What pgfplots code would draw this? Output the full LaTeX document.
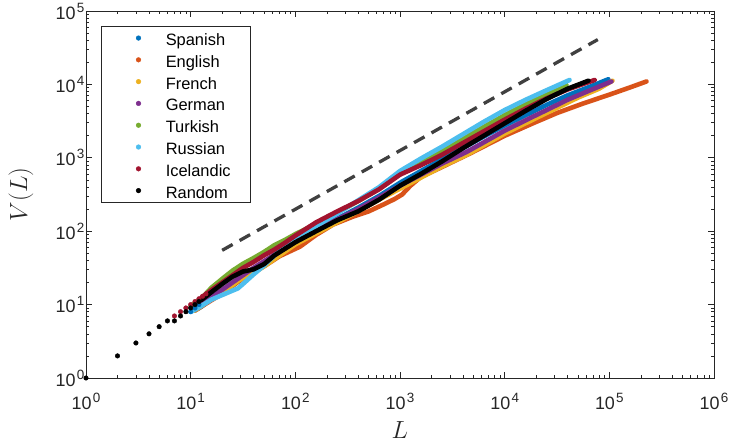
\documentclass[border=0pt]{standalone}
\usepackage[no-math]{fontspec}
\setmainfont{Liberation Sans}
\usepackage{pgfplots}
\pgfplotsset{compat=1.18}

\definecolor{mlblue}{RGB}{0,114,189}
\definecolor{mlorange}{RGB}{217,83,25}
\definecolor{mlyellow}{RGB}{237,177,32}
\definecolor{mlpurple}{RGB}{126,47,142}
\definecolor{mlgreen}{RGB}{119,172,48}
\definecolor{mlcyan}{RGB}{77,190,238}
\definecolor{mlred}{RGB}{162,20,47}
\definecolor{axgray}{RGB}{38,38,38}
\definecolor{dashgray}{RGB}{64,64,64}

\newcommand{\entry}[1]{\makebox[81bp][l]{\rule[-5bp]{0pt}{21.6bp}#1}}
\newcommand{\tp}[1]{10\kern1.2bp\raisebox{7bp}{\fontsize{13.5}{14}\selectfont #1}}

\begin{document}
\begin{tikzpicture}
\useasboundingbox (-86bp,-65bp) rectangle (643bp,378bp);
\begin{axis}[
    xmode=log, ymode=log,
    scale only axis, width=628bp, height=367bp,
    xmin=1, xmax=1e6, ymin=1, ymax=1e5,
    axis line style={axgray, line width=0.6bp},
    every tick/.style={axgray, line width=0.6bp},
    major tick length=6bp, minor tick length=3.5bp,
    xtick={1,10,100,1000,10000,100000,1000000},
    xticklabels={\tp{0},\tp{1},\tp{2},\tp{3},\tp{4},\tp{5},\tp{6}},
    ytick={1,10,100,1000,10000,100000},
    yticklabels={\tp{0},\tp{1},\tp{2},\tp{3},\tp{4},\tp{5}},
    minor xtick={2,3,4,5,6,7,8,9,20,30,40,50,60,70,80,90,200,300,400,500,600,700,800,900,2000,3000,4000,5000,6000,7000,8000,9000,20000,30000,40000,50000,60000,70000,80000,90000,200000,300000,400000,500000,600000,700000,800000,900000},
    minor ytick={2,3,4,5,6,7,8,9,20,30,40,50,60,70,80,90,200,300,400,500,600,700,800,900,2000,3000,4000,5000,6000,7000,8000,9000,20000,30000,40000,50000,60000,70000,80000,90000},
    ticklabel style={font=\fontsize{18}{20}\selectfont, text=axgray},
    xticklabel style={inner ysep=0pt, yshift=-15bp},
    yticklabel style={inner xsep=1.5bp},
    xlabel={$L$}, ylabel={$V(L)$},
    label style={font=\fontsize{23.5}{27}\selectfont, text=axgray},
    xlabel style={at={(axis description cs:0.5,-0.141)}, anchor=center},
    ylabel style={at={(axis description cs:-0.1035,0.5)}, anchor=center},
    legend style={at={(axis description cs:0.0239,0.959)}, anchor=north west,
        draw=axgray, line width=0.5bp, inner xsep=0pt, inner ysep=2.7bp, row sep=3.7bp,
        font=\fontsize{16.5}{19}\selectfont, nodes={inner xsep=3bp, inner ysep=0pt}},
    legend cell align=left,
    legend image code/.code={\fill[#1] (37bp,0) circle (2.3bp); \path (0,0) (61bp,0);},
    every axis plot/.append style={line join=round, line cap=round},
]
\addlegendimage{mlblue}\addlegendentry{\entry{Spanish}}
\addlegendimage{mlorange}\addlegendentry{\entry{English}}
\addlegendimage{mlyellow}\addlegendentry{\entry{French}}
\addlegendimage{mlpurple}\addlegendentry{\entry{German}}
\addlegendimage{mlgreen}\addlegendentry{\entry{Turkish}}
\addlegendimage{mlcyan}\addlegendentry{\entry{Russian}}
\addlegendimage{mlred}\addlegendentry{\entry{Icelandic}}
\addlegendimage{black}\addlegendentry{\entry{Random}}

% Spanish
\addplot[only marks, mark=*, mark size=2.3bp, mlblue, forget plot] coordinates {
 (10,8) (11,9) (12,10)};
\addplot[mlblue, line width=4.6bp, forget plot] coordinates {
 (11,8.32) (12.6,9.33) (15.8,12.0) (20,14.8) (25.1,18.2) (31.6,22.9) (39.8,28.8)
 (50.1,36.3) (63.1,45.7) (79.4,57.5) (100,72.4) (158,105) (251,148) (398,209)
 (631,302) (1000,457) (1585,661) (2512,955) (3981,1349) (6310,1950) (10000,2754)
 (15849,3802) (25119,5248) (39811,7079) (63096,9120) (97724,11749)};

% English
\addplot[mlorange, line width=4.6bp, forget plot] coordinates {
 (11,8.32) (20,14.1) (31.6,22.9) (50.1,33.1) (70.8,45.7) (111,61.7) (158,89.1)
 (229,123) (355,158) (501,186) (708,234) (891,275) (1047,316) (1259,417)
 (1585,550) (2399,724) (4677,1148) (10000,1995) (18621,2951) (31623,4074)
 (56234,5495) (100000,7244) (158489,9120) (226464,10965)};

% French
\addplot[mlyellow, line width=4.6bp, forget plot] coordinates {
 (11,8.32) (15.8,12.0) (21.9,15.8) (28.2,20.9) (34.7,25.1) (39.8,26.9) (50.1,33.1)
 (63.1,41.7) (100,66.1) (158,93.3) (251,132) (398,186) (631,269) (1000,380)
 (1585,537) (2512,759) (4325,1096) (6310,1479) (10000,2138) (18621,3311)
 (31623,4786) (50119,6607) (79433,8710) (107152,11220)};

% German
\addplot[mlpurple, line width=4.6bp, forget plot] coordinates {
 (11,8.51) (15.8,12.6) (25.1,20) (39.8,31.6) (63.1,47.9) (100,72.4) (158,102)
 (251,145) (398,200) (631,288) (1000,417) (1585,589) (2512,832) (4325,1202)
 (6310,1622) (10000,2344) (18621,3631) (25119,4467) (39811,6166) (63096,8128)
 (104713,10965)};

% Turkish
\addplot[mlgreen, line width=4.6bp, forget plot] coordinates {
 (10,9.55) (12.6,12.0) (15.8,17.0) (20,22.4) (25.1,29.0) (31.6,36.0) (39.8,43.0)
 (50.1,52.0) (63.1,64.6) (79.4,75.9) (100,91.2) (158,126) (251,178) (398,257)
 (631,380) (1000,603) (1585,871) (2512,1259) (3981,1820) (6310,2630) (10000,3802)
 (15849,5370) (25119,7413) (38905,9772)};

% Russian
\addplot[mlcyan, line width=4.6bp, forget plot] coordinates {
 (10,7.94) (12.6,9.55) (15.8,11.7) (20,13.5) (25.1,15.5) (28.2,16.6) (31.6,19.1)
 (39.8,25.7) (50.1,33.9) (63.1,46.8) (79.4,60.3) (100,79.4) (158,117) (251,174)
 (398,263) (631,398) (1000,661) (1585,977) (2512,1413) (3981,2089) (6310,3090)
 (10000,4467) (15849,6166) (25119,8318) (41687,11482)};

% Icelandic
\addplot[only marks, mark=*, mark size=2.3bp, mlred, forget plot] coordinates {
 (7,7) (8,8) (9,9) (10,10) (11,11) (12,12) (13,13) (14,14)};
\addplot[mlred, line width=4.6bp, forget plot] coordinates {
 (12.6,12.3) (15.8,15.8) (20,20) (25.1,25.1) (31.6,31.6) (39.8,38.0)
 (50.1,46.8) (63.1,56.2) (79.4,69.2) (100,87.1) (158,132) (251,186) (398,257)
 (631,372) (1000,589) (1585,794) (2512,1096) (3981,1585) (6310,2291) (10000,3311)
 (15849,4677) (25119,6457) (39811,8511) (72444,11482)};

% Random
\addplot[only marks, mark=*, mark size=2.3bp, black, forget plot] coordinates {
 (1,1) (2,2) (3,3) (4,4) (5,5) (6,6) (7,6) (8,7) (9,8) (10,9) (11,10) (12,11)};
\addplot[black, line width=4.6bp, forget plot] coordinates {
 (12.6,11.5) (15.8,14.8) (20,19.1) (25.1,24.0) (31.6,28.2) (39.8,30.2)
 (50.1,35.5) (63.1,46.8) (79.4,57.5) (100,70.8) (158,100) (251,141) (398,186)
 (631,269) (1000,417) (1585,603) (2512,891) (3981,1349) (6310,1995) (10000,2951)
 (15849,4365) (25119,6310) (39811,8710) (63096,11220)};

% reference slope
\addplot[dashgray, line width=3.3bp, line cap=butt, dash pattern=on 12bp off 8bp, forget plot] coordinates {
 (20,54.9) (77600,40800)};
\end{axis}
\end{tikzpicture}
\end{document}
